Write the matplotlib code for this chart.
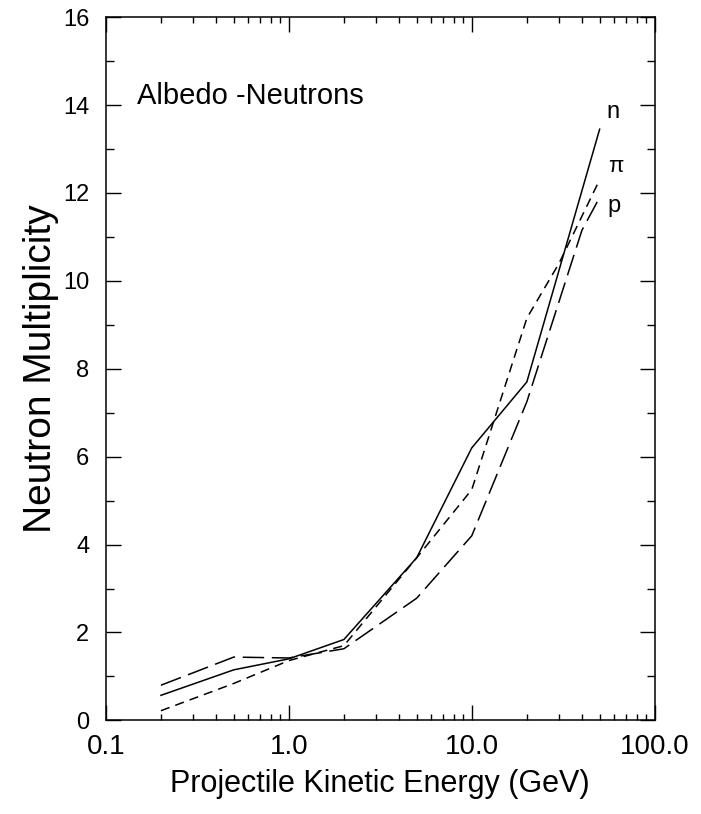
import matplotlib
matplotlib.use("Agg")
import matplotlib.pyplot as plt
import matplotlib.ticker as mticker

plt.rcParams['font.family'] = ['Liberation Sans', 'DejaVu Sans']

energy = [0.2, 0.5, 1.0, 2.0, 5.0, 10.0, 20.0, 50.0]
n_mult = [0.57, 1.15, 1.40, 1.84, 3.70, 6.20, 7.70, 13.45]

energy_pi = [0.2, 0.5, 1.0, 2.0, 5.0, 10.0, 20.0, 30.0, 50.0]
pi_mult = [0.22, 0.84, 1.36, 1.70, 3.70, 5.25, 9.15, 10.4, 12.3]

energy_p = [0.2, 0.5, 1.0, 2.0, 5.0, 10.0, 20.0, 40.0, 50.0]
p_mult = [0.80, 1.44, 1.42, 1.63, 2.78, 4.20, 7.25, 11.15, 11.9]

xtick_vals = [0.1, 1.0, 10.0, 100.0]
xtick_labels = ["0.1", "1.0", "10.0", "100.0"]

fig = plt.figure(figsize=(7.01, 8.14), dpi=100)
ax = fig.add_axes([0.151, 0.115, 0.783, 0.864])

ax.plot(energy, n_mult, color="black", lw=1.1, linestyle="-")
ax.plot(energy_pi, pi_mult, color="black", lw=1.1, linestyle=(0, (6, 4)))
ax.plot(energy_p, p_mult, color="black", lw=1.1, linestyle=(0, (14, 5)))

ax.set_xscale("log")
ax.set_xlim(0.1, 100)
ax.set_ylim(0, 16)

ax.set_xticks(xtick_vals)
ax.set_xticklabels(xtick_labels, fontsize=20)
ax.xaxis.set_minor_locator(mticker.LogLocator(base=10, subs=range(2, 10)))
ax.xaxis.set_minor_formatter(mticker.NullFormatter())
ax.set_yticks(range(0, 17, 2))
ax.yaxis.set_minor_locator(mticker.MultipleLocator(1))
ax.tick_params(axis="y", labelsize=17)

ax.tick_params(which="both", direction="in", top=True, right=True, width=1.0, color="black")
ax.tick_params(axis="y", which="major", length=11, pad=12)
ax.tick_params(axis="y", which="minor", length=6)
ax.tick_params(axis="x", which="major", length=11, pad=10)
ax.tick_params(axis="x", which="minor", length=4)

for s in ax.spines.values():
    s.set_linewidth(1.1)

ax.set_xlabel("Projectile Kinetic Energy (GeV)", fontsize=22, labelpad=6)
ax.set_ylabel("Neutron Multiplicity", fontsize=28, labelpad=3)

ax.text(0.148, 14.2, "Albedo -Neutrons", fontsize=21, va="center", ha="left")
ax.text(59, 13.85, "n", fontsize=17, va="center", ha="center")
ax.text(61, 12.6, "π", fontsize=16, va="center", ha="center")
ax.text(60, 11.7, "p", fontsize=17, va="center", ha="center")

fig.savefig("out.png", dpi=100)
